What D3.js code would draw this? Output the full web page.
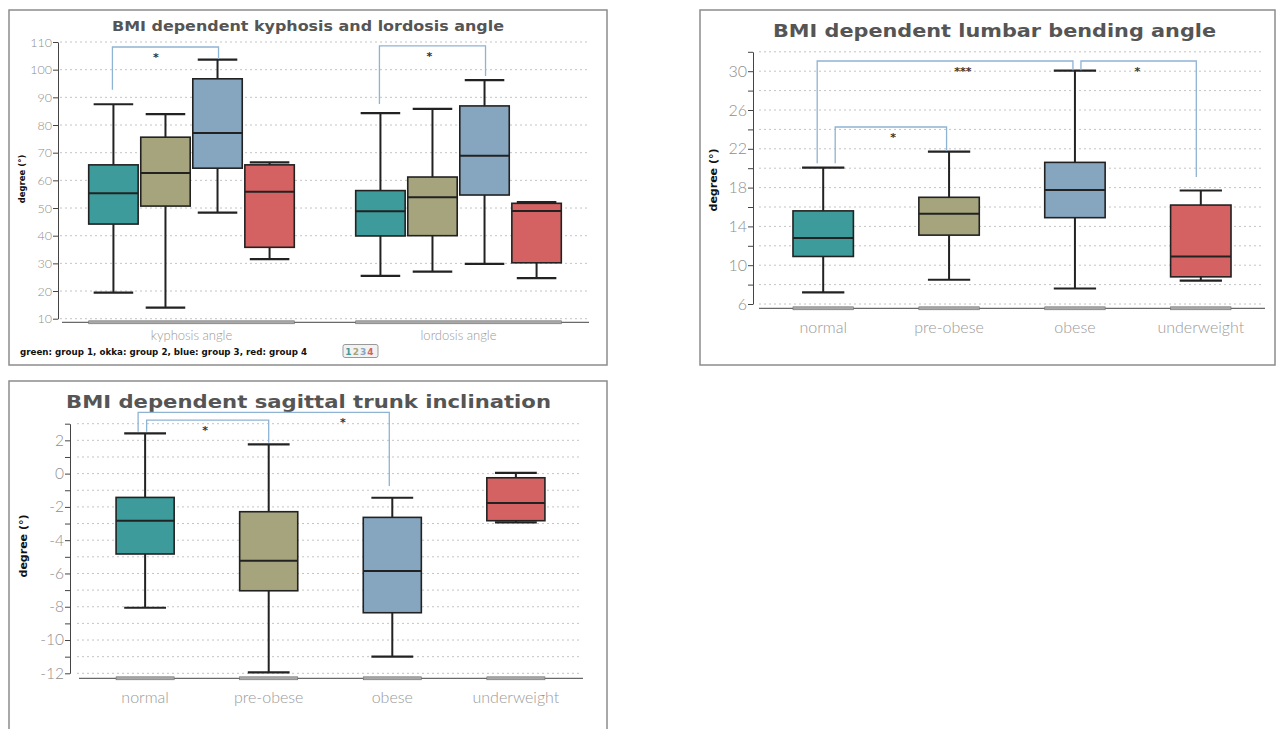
<!DOCTYPE html>
<html><head><meta charset="utf-8">
<script src="https://cdn.jsdelivr.net/npm/d3@7"></script>
<style>body{margin:0;background:#fff}svg{display:block}</style>
</head><body>
<svg id="c" width="1277" height="729"></svg>
<script>
// ---------- DATA ----------
const groupNames = ["group 1", "group 2", "group 3", "group 4"];
const groupColors = ["#3d9b9b", "#a5a47c", "#86a6bf", "#d46262"];

const angleCats = ["kyphosis angle", "lordosis angle"];
// each box: [min, q1, median, q3, max]
const kyphosisStats = [[19.4, 44.2, 55.3, 65.6, 87.5], [14.0, 50.7, 62.7, 75.6, 83.9], [48.3, 64.4, 77.1, 96.7, 103.6], [31.5, 35.8, 55.9, 65.6, 66.5]];
const lordosisStats = [[25.5, 39.9, 48.8, 56.3, 84.3], [27.0, 40.0, 53.9, 61.2, 85.8], [29.8, 54.7, 68.9, 86.9, 96.2], [24.7, 30.2, 48.9, 51.7, 52.1]];
const angleTicks = [10, 20, 30, 40, 50, 60, 70, 80, 90, 100, 110];
const angleBrackets = [
  {cat: "kyphosis angle", from: 0, to: 2, top: 108.2, end1: 92.7, end2: 103.9, label: "*", at: 0.41},
  {cat: "lordosis angle", from: 0, to: 2, top: 108.6, end1: 87.6, end2: 97.7, label: "*", at: 0.47}
];

const bmiCats = ["normal", "pre-obese", "obese", "underweight"];
const lumbarStats = [[7.2, 10.9, 12.8, 15.6, 20.05], [8.5, 13.1, 15.3, 17.0, 21.7], [7.6, 14.9, 17.75, 20.6, 30.05], [8.4, 8.8, 10.9, 16.2, 17.7]];
const lumbarTickLabels = [6, 10, 14, 18, 22, 26, 30];
const lumbarGrid = [6, 8, 10, 12, 14, 16, 18, 20, 22, 24, 26, 28, 30, 32];
const lumbarBrackets = [
  {from: 0, to: 2, top: 31.05, end1: 20.5, end2: 30.1, label: "***", at: 0.57},
  {from: 0, to: 1, top: 24.25, end1: 20.5, end2: 21.8, label: "*", at: 0.52},
  {from: 2, to: 3, top: 31.05, end1: 30.1, end2: 19.1, label: "*", at: 0.49}
];

const trunkStats = [[-8.06, -4.83, -2.83, -1.43, 2.42], [-11.94, -7.04, -5.23, -2.29, 1.76], [-11.0, -8.36, -5.85, -2.63, -1.45], [-2.93, -2.83, -1.77, -0.25, 0.04]];
const trunkTickLabels = [2, 0, -2, -4, -6, -8, -10, -12];
const trunkGrid = [3, 2, 1, 0, -1, -2, -3, -4, -5, -6, -7, -8, -9, -10, -11, -12];
const trunkBrackets = [
  {from: 0, to: 2, top: 3.68, end1: 2.52, end2: -0.75, label: "*", at: 0.815},
  {from: 0, to: 1, top: 3.22, end1: 2.52, end2: 1.86, label: "*", at: 0.48}
];

const legendText = "green: group 1, okka: group 2, blue: group 3, red: group 4";

// ---------- LAYOUT / STYLE ----------
const FONT_T = "'DejaVu Sans', Verdana, sans-serif";
const FONT_L = "Lato, 'Open Sans', sans-serif";
const INK = "#222";
const BRACKET = "#8fb3d3";
const svg = d3.select("#c");

function frame(x, y, w, h) {
  svg.append("rect").attr("x", x).attr("y", y).attr("width", w).attr("height", h)
    .attr("fill", "none").attr("stroke", "#8c8c8c").attr("stroke-width", 1.5);
}
function title(text, cx, base, size, len) {
  svg.append("text").attr("x", cx).attr("y", base).attr("text-anchor", "middle")
    .attr("font-family", FONT_T).attr("font-weight", "bold").attr("font-size", size)
    .attr("fill", "#555").attr("textLength", len).attr("lengthAdjust", "spacingAndGlyphs").text(text);
}
function yLabel(cx, cy, size) {
  svg.append("text").attr("transform", `translate(${cx},${cy}) rotate(-90)`).attr("text-anchor", "middle")
    .attr("font-family", FONT_T).attr("font-weight", "bold").attr("font-size", size).attr("fill", "#111")
    .text("degree (°)");
}
function yAxis(y, ax, gx0, gx1, gridVals, labelVals, fs) {
  svg.append("g").selectAll("line").data(gridVals).join("line")
    .attr("x1", gx0).attr("x2", gx1).attr("y1", d => y(d)).attr("y2", d => y(d))
    .attr("stroke", "#c4c4c4").attr("stroke-dasharray", "2,3");
  const g = svg.append("g").attr("transform", `translate(${ax},0)`);
  g.call(d3.axisLeft(y).tickValues(gridVals).tickSize(5).tickSizeOuter(0).tickPadding(1)
    .tickFormat(d => labelVals.includes(d) ? String(d) : ""));
  g.select(".domain").attr("stroke", "#444");
  g.selectAll(".tick line").attr("stroke", "#444");
  g.selectAll(".tick text").attr("font-family", FONT_L).attr("font-weight", 300)
    .attr("font-size", fs).attr("fill", "#8e8e8e");
}
function xAxis(x0, x1, yy, bands) {
  svg.append("line").attr("x1", x0).attr("x2", x1).attr("y1", yy).attr("y2", yy).attr("stroke", "#444");
  svg.append("g").selectAll("rect").data(bands).join("rect")
    .attr("x", d => d[0]).attr("width", d => d[1]).attr("y", yy - 1.5).attr("height", 3)
    .attr("fill", "#a8a8a8").attr("stroke", "#707070").attr("stroke-width", 0.6);
}
function catLabels(items, base, fs) {
  svg.append("g").selectAll("text").data(items).join("text")
    .attr("x", d => d[0]).attr("y", base).attr("text-anchor", "middle")
    .attr("font-family", FONT_L).attr("font-weight", 300)
    .attr("font-size", fs).attr("fill", "#999").text(d => d[1]);
}
function drawBox(s, cx, w, capW, y, color) {
  const [mn, q1, md, q3, mx] = s;
  const g = svg.append("g");
  g.append("line").attr("x1", cx).attr("x2", cx).attr("y1", y(mn)).attr("y2", y(mx))
    .attr("stroke", INK).attr("stroke-width", 2);
  g.selectAll(".cap").data([mn, mx]).join("line")
    .attr("x1", cx - capW / 2).attr("x2", cx + capW / 2).attr("y1", d => y(d)).attr("y2", d => y(d))
    .attr("stroke", INK).attr("stroke-width", 2.2);
  g.append("rect").attr("x", cx - w / 2).attr("y", y(q3)).attr("width", w).attr("height", y(q1) - y(q3))
    .attr("fill", color).attr("stroke", INK).attr("stroke-width", 1.6);
  g.append("line").attr("x1", cx - w / 2).attr("x2", cx + w / 2).attr("y1", y(md)).attr("y2", y(md))
    .attr("stroke", INK).attr("stroke-width", 2);
}
function bracket(xa, xb, y, b) {
  svg.append("path").attr("d", `M${xa},${y(b.end1)}V${y(b.top)}H${xb}V${y(b.end2)}`)
    .attr("fill", "none").attr("stroke", BRACKET).attr("stroke-width", 1.3);
  svg.append("text").attr("x", xa + (xb - xa) * b.at).attr("y", y(b.top) + 14)
    .attr("text-anchor", "middle").attr("font-family", FONT_T).attr("font-weight", "bold")
    .attr("font-size", 11).attr("fill", "#333").text(b.label);
}

// ---------- PANEL 1 ----------
(function () {
  frame(9, 10, 598, 355);
  title("BMI dependent kyphosis and lordosis angle", 308, 31, 14, 392);
  const y = d3.scaleLinear().domain([10, 110]).range([318.7, 42]);
  const xo = d3.scaleBand().domain(angleCats).range([62, 588]).paddingInner(0.23).paddingOuter(0.1);
  const xi = d3.scaleBand().domain(groupNames).range([0, xo.bandwidth()]).paddingInner(0.05).paddingOuter(0);
  yAxis(y, 58, 60, 587, angleTicks, angleTicks, 12.5);
  xAxis(62, 589, 322.3, angleCats.map(c => [xo(c), xo.bandwidth()]));
  catLabels(angleCats.map(c => [xo(c) + xo.bandwidth() / 2, c]), 340, 13);
  yLabel(25, 179, 8.5);
  const cx = (c, i) => xo(c) + xi(groupNames[i]) + xi.bandwidth() / 2;
  [kyphosisStats, lordosisStats].forEach((stats, k) => {
    stats.forEach((s, i) => drawBox(s, cx(angleCats[k], i), xi.bandwidth(), xi.bandwidth() * 0.8, y, groupColors[i]));
  });
  angleBrackets.forEach(b => bracket(cx(b.cat, b.from) - 1, cx(b.cat, b.to) + 1, y, b));
  svg.append("text").attr("x", 20).attr("y", 355).attr("font-family", FONT_T).attr("font-weight", "bold")
    .attr("font-size", 9).attr("fill", "#111").attr("textLength", 287).attr("lengthAdjust", "spacingAndGlyphs")
    .text(legendText);
  svg.append("rect").attr("x", 343).attr("y", 344.5).attr("width", 35).attr("height", 13).attr("rx", 2)
    .attr("fill", "#f2f2f2").attr("stroke", "#999");
  svg.append("g").selectAll("text").data(groupNames).join("text")
    .attr("x", (d, i) => 348.5 + i * 7.3).attr("y", 355).attr("text-anchor", "middle")
    .attr("font-family", FONT_T).attr("font-weight", "bold").attr("font-size", 9)
    .attr("fill", (d, i) => groupColors[i]).text((d, i) => i + 1);
})();

// ---------- PANEL 2 ----------
(function () {
  frame(700, 10, 575, 355);
  title("BMI dependent lumbar bending angle", 994.5, 37.3, 17, 443);
  const y = d3.scaleLinear().domain([6, 32]).range([304, 51.8]);
  const x = d3.scaleBand().domain(bmiCats).range([759, 1265]).paddingInner(0.52).paddingOuter(0.27);
  yAxis(y, 753, 759, 1262, lumbarGrid, lumbarTickLabels, 16);
  xAxis(759, 1265, 308.3, bmiCats.map(c => [x(c), x.bandwidth()]));
  catLabels(bmiCats.map(c => [x(c) + x.bandwidth() / 2, c]), 332.7, 16);
  yLabel(717, 180, 11);
  const cx = i => x(bmiCats[i]) + x.bandwidth() / 2;
  lumbarStats.forEach((s, i) => drawBox(s, cx(i), x.bandwidth(), x.bandwidth() * 0.7, y, groupColors[i]));
  const dx = [[-6, -2], [12, -2.5], [6, -4.5]];
  lumbarBrackets.forEach((b, k) => bracket(cx(b.from) + dx[k][0], cx(b.to) + dx[k][1], y, b));
})();

// ---------- PANEL 3 ----------
(function () {
  frame(9, 381, 598, 400);
  title("BMI dependent sagittal trunk inclination", 308.5, 407.7, 17.4, 485);
  const y = d3.scaleLinear().domain([-12, 3]).range([673.3, 423.7]);
  const x = d3.scaleBand().domain(bmiCats).range([79, 582]).paddingInner(0.53).paddingOuter(0.3);
  yAxis(y, 70, 77, 582, trunkGrid, trunkTickLabels, 15.5);
  xAxis(79, 583, 678.3, bmiCats.map(c => [x(c), x.bandwidth()]));
  catLabels(bmiCats.map(c => [x(c) + x.bandwidth() / 2, c]), 702.7, 16);
  yLabel(27, 546, 11);
  const cx = i => x(bmiCats[i]) + x.bandwidth() / 2;
  trunkStats.forEach((s, i) => drawBox(s, cx(i), x.bandwidth(), x.bandwidth() * 0.72, y, groupColors[i]));
  const dx = [[-7, -3], [1.5, 0]];
  trunkBrackets.forEach((b, k) => bracket(cx(b.from) + dx[k][0], cx(b.to) + dx[k][1], y, b));
})();
</script>
</body></html>
